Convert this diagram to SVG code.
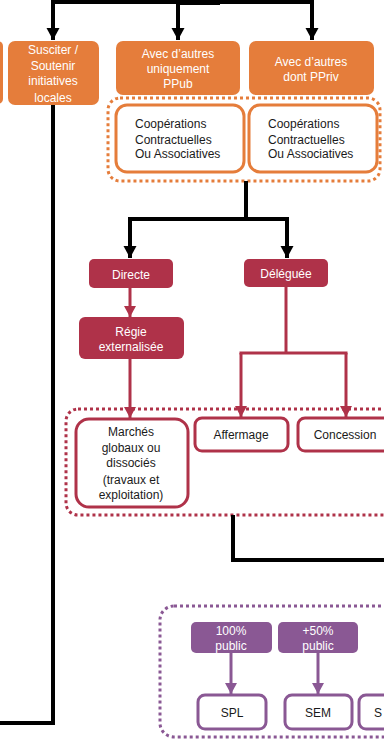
<svg xmlns="http://www.w3.org/2000/svg" width="384" height="748" viewBox="0 0 384 748">
  <style>
    text { font-family: "Liberation Sans", Arial, sans-serif; font-size: 12px; text-anchor: middle; }
    .wt { fill: #ffffff; }
    .bt { fill: #1a1a1a; }
    .lt { text-anchor: start; }
    .or-fill { fill: #E57D3B; }
    .or-line { fill: #ffffff; stroke: #E57D3B; stroke-width: 3; }
    .or-dot { fill: none; stroke: #E57D3B; stroke-width: 3; stroke-dasharray: 3 3; }
    .cr-fill { fill: #AF3249; }
    .cr-line { fill: #ffffff; stroke: #AF3249; stroke-width: 3; }
    .cr-dot { fill: none; stroke: #AF3249; stroke-width: 3; stroke-dasharray: 3 3; }
    .pu-fill { fill: #8A5894; }
    .pu-line { fill: #ffffff; stroke: #8A5894; stroke-width: 3; }
    .pu-dot { fill: none; stroke: #8A5894; stroke-width: 3; stroke-dasharray: 3 3; }
    .c-black { fill: none; stroke: #000000; stroke-width: 4; }
    .c-cr { fill: none; stroke: #AF3249; stroke-width: 3; }
    .c-pu { fill: none; stroke: #8A5894; stroke-width: 3; }
  </style>
  <defs>
    <marker id="arrow-black" markerUnits="userSpaceOnUse" markerWidth="14" markerHeight="14" refX="12" refY="7" orient="auto">
      <path d="M0,0.5 L12,7 L0,13.5 z" fill="#000000"/>
    </marker>
    <marker id="arrow-cr" markerUnits="userSpaceOnUse" markerWidth="12" markerHeight="13" refX="11" refY="6.5" orient="auto">
      <path d="M0,0.5 L11,6.5 L0,12.5 z" fill="#AF3249"/>
    </marker>
    <marker id="arrow-pu" markerUnits="userSpaceOnUse" markerWidth="12" markerHeight="13" refX="11" refY="6.5" orient="auto">
      <path d="M0,0.5 L11,6.5 L0,12.5 z" fill="#8A5894"/>
    </marker>
  </defs>

  <!-- group frames -->
  <rect class="or-dot" x="108" y="98" width="272" height="83" rx="12"/>
  <rect class="cr-dot" x="66" y="409" width="330" height="106" rx="12"/>
  <rect class="pu-dot" x="160" y="606" width="240" height="131" rx="14"/>

  <g id="connectors">
    <!-- top bus -->
    <path class="c-black" d="M51,2 H314"/>
    <rect x="177" y="0" width="43" height="5" fill="#000000"/>
    <path class="c-black" d="M53,2 V40" marker-end="url(#arrow-black)"/>
    <path class="c-black" d="M178,2 V40" marker-end="url(#arrow-black)"/>
    <path class="c-black" d="M312,2 V40" marker-end="url(#arrow-black)"/>
    <!-- left return -->
    <path class="c-black" d="M53,104 V723 H-2"/>
    <!-- cooperation split -->
    <path class="c-black" d="M246,181 V219"/>
    <path class="c-black" d="M128,219 H289"/>
    <path class="c-black" d="M130,219 V258" marker-end="url(#arrow-black)"/>
    <path class="c-black" d="M287,219 V258" marker-end="url(#arrow-black)"/>
    <!-- to lower group -->
    <path class="c-black" d="M233,515 V560 H386"/>
    <!-- crimson links -->
    <path class="c-cr" d="M130,288 V317" marker-end="url(#arrow-cr)"/>
    <path class="c-cr" d="M130,359 V418" marker-end="url(#arrow-cr)"/>
    <path class="c-cr" d="M286,287 V353"/>
    <path class="c-cr" d="M239.5,353 H347.5"/>
    <path class="c-cr" d="M241,353 V417" marker-end="url(#arrow-cr)"/>
    <path class="c-cr" d="M346,353 V417" marker-end="url(#arrow-cr)"/>
    <!-- purple links -->
    <path class="c-pu" d="M231,653 V694" marker-end="url(#arrow-pu)"/>
    <path class="c-pu" d="M318,653 V694" marker-end="url(#arrow-pu)"/>
  </g>

  <g id="node-left-partial">
    <rect class="or-fill" x="-10" y="41" width="13" height="63" rx="5"/>
  </g>
  <g id="node-susciter">
    <rect class="or-fill" x="8" y="41" width="91" height="64" rx="7"/>
    <text class="wt" x="53" y="54">Susciter /</text>
    <text class="wt" x="53" y="70">Soutenir</text>
    <text class="wt" x="53" y="85">initiatives</text>
    <text class="wt" x="53" y="102">locales</text>
  </g>
  <g id="node-ppub">
    <rect class="or-fill" x="116" y="41" width="124" height="54" rx="7"/>
    <text class="wt" x="178" y="58">Avec d’autres</text>
    <text class="wt" x="178" y="73">uniquement</text>
    <text class="wt" x="178" y="88">PPub</text>
  </g>
  <g id="node-ppriv">
    <rect class="or-fill" x="249" y="41" width="125" height="54" rx="7"/>
    <text class="wt" x="311" y="66">Avec d’autres</text>
    <text class="wt" x="311" y="81">dont PPriv</text>
  </g>
  <g id="node-coop-1">
    <rect class="or-line" x="116" y="105" width="128" height="67" rx="11"/>
    <text class="bt lt" x="135" y="128">Coopérations</text>
    <text class="bt lt" x="135" y="144">Contractuelles</text>
    <text class="bt lt" x="135" y="158">Ou Associatives</text>
  </g>
  <g id="node-coop-2">
    <rect class="or-line" x="249" y="105" width="128" height="67" rx="11"/>
    <text class="bt lt" x="268" y="128">Coopérations</text>
    <text class="bt lt" x="268" y="144">Contractuelles</text>
    <text class="bt lt" x="268" y="158">Ou Associatives</text>
  </g>

  <g id="node-directe">
    <rect class="cr-fill" x="89" y="259" width="84" height="29" rx="5"/>
    <text class="wt" x="131" y="279">Directe</text>
  </g>
  <g id="node-deleguee">
    <rect class="cr-fill" x="244" y="259" width="84" height="28" rx="5"/>
    <text class="wt" x="286" y="278">Déléguée</text>
  </g>
  <g id="node-regie">
    <rect class="cr-fill" x="79" y="317" width="105" height="42" rx="6"/>
    <text class="wt" x="131" y="336">Régie</text>
    <text class="wt" x="131" y="351">externalisée</text>
  </g>
  <g id="node-marches">
    <rect class="cr-line" x="76" y="419" width="112" height="88" rx="13"/>
    <text class="bt" x="131" y="436">Marchés</text>
    <text class="bt" x="131" y="452">globaux ou</text>
    <text class="bt" x="131" y="467">dissociés</text>
    <text class="bt" x="131" y="484">(travaux et</text>
    <text class="bt" x="131" y="499">exploitation)</text>
  </g>
  <g id="node-affermage">
    <rect class="cr-line" x="195" y="418" width="93" height="33" rx="7"/>
    <text class="bt" x="241" y="439">Affermage</text>
  </g>
  <g id="node-concession">
    <rect class="cr-line" x="298" y="418" width="94" height="33" rx="7"/>
    <text class="bt" x="345" y="439">Concession</text>
  </g>

  <g id="node-100-public">
    <rect class="pu-fill" x="191" y="622" width="81" height="31" rx="5"/>
    <text class="wt" x="231" y="635">100%</text>
    <text class="wt" x="231" y="650">public</text>
  </g>
  <g id="node-50-public">
    <rect class="pu-fill" x="278" y="622" width="80" height="31" rx="5"/>
    <text class="wt" x="318" y="635">+50%</text>
    <text class="wt" x="318" y="650">public</text>
  </g>
  <g id="node-spl">
    <rect class="pu-line" x="198" y="695" width="68" height="34" rx="7"/>
    <text class="bt" x="232" y="717">SPL</text>
  </g>
  <g id="node-sem">
    <rect class="pu-line" x="285" y="695" width="67" height="34" rx="7"/>
    <text class="bt" x="318" y="717">SEM</text>
  </g>
  <g id="node-s">
    <rect class="pu-line" x="359" y="695" width="67" height="34" rx="7"/>
    <text class="bt lt" x="374" y="717">S</text>
  </g>
</svg>
